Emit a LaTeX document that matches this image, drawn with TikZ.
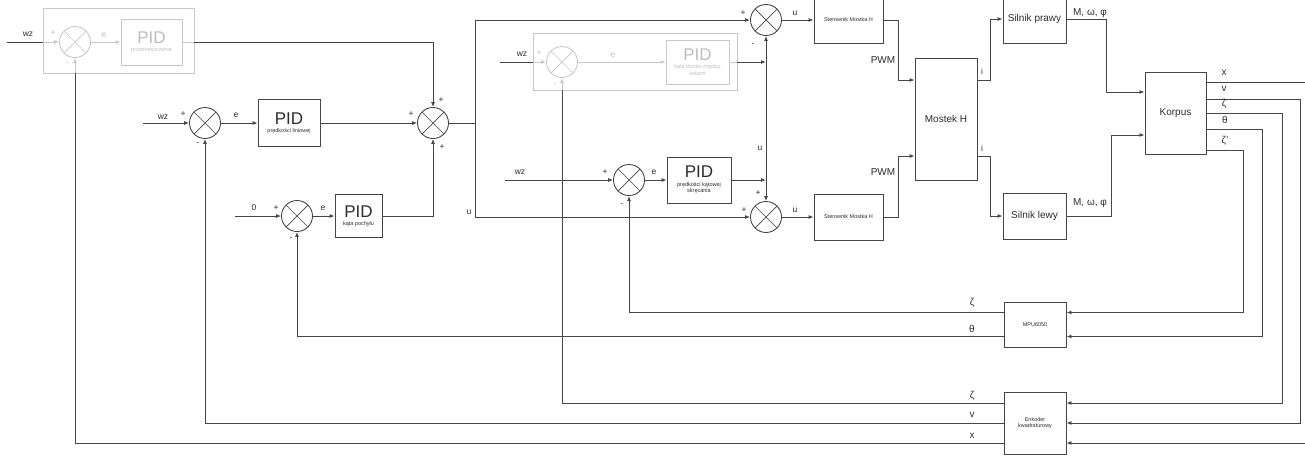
\documentclass[tikz,border=0pt]{standalone}
\usepackage{fontspec}
\setmainfont{Liberation Sans}
\usetikzlibrary{arrows.meta,calc}
\definecolor{ctrlInk}{RGB}{45,45,45}
\definecolor{ctrlLine}{RGB}{70,70,70}
\definecolor{ctrlFade}{RGB}{200,200,200}
\definecolor{ctrlFadeText}{RGB}{190,190,190}
\newcommand{\pidfont}{\fontsize{17}{18}\selectfont}
\newcommand{\tinyfont}{\fontsize{5.5}{6.5}\selectfont}

\begin{document}
\begin{tikzpicture}[
  x=1pt,y=-1pt,
  font=\fontsize{10}{12}\selectfont,
  >={Latex[length=5pt,width=4pt]},
  block/.style={draw=ctrlLine,line width=0.9pt,fill=white,align=center,text=ctrlInk,inner sep=1pt},
  pidbox/.style={block,font=\tinyfont},
  faded/.style={pidbox,draw=ctrlFade,text=ctrlFadeText},
  frame/.style={draw=ctrlFade,line width=0.9pt,inner sep=0pt},
  sum/.style={circle,draw=#1,line width=0.9pt,fill=white,minimum size=31pt,inner sep=0pt,
    path picture={\draw[#1,line width=0.7pt]
      (path picture bounding box.north west) -- (path picture bounding box.south east)
      (path picture bounding box.south west) -- (path picture bounding box.north east);}},
  sum/.default=ctrlLine,
  arrow/.style={->,line width=0.9pt,draw=ctrlLine},
  farrow/.style={->,line width=0.9pt,draw=ctrlFade},
  bus/.style={line width=0.9pt,draw=ctrlLine},
  fbus/.style={line width=0.9pt,draw=ctrlFade},
  lbl/.style={font=\fontsize{8.5}{9}\selectfont,text=ctrlInk,inner sep=0pt},
  flbl/.style={lbl,text=ctrlFadeText},
  glbl/.style={font=\fontsize{10}{11}\selectfont,text=ctrlInk,inner sep=0pt}
]
\useasboundingbox (0,0) rectangle (1305,456);

\node[frame,minimum width=151pt,minimum height=65pt] (boxA) at (118.5,40.5) {};
\node[sum=ctrlFade] (sumA) at (75,42) {};
\node[faded,minimum width=61pt,minimum height=46pt] (pidA) at (151.5,42) {{\pidfont PID}\\[2pt]przemieszczenie};

\node[sum] (sumB) at (205,123) {};
\node[pidbox,minimum width=62pt,minimum height=47pt] (pidB) at (289,123) {{\pidfont PID}\\[2pt]prędkości liniowej};
\node[sum] (sumC) at (433,123) {};

\node[sum] (sumD) at (297,216) {};
\node[pidbox,minimum width=47pt,minimum height=43pt] (pidD) at (358.5,216) {{\pidfont PID}\\[2pt]kąta pochyłu};

\node[frame,minimum width=204pt,minimum height=57pt] (boxE) at (635,61.5) {};
\node[sum=ctrlFade] (sumE) at (562,62) {};
\node[faded,minimum width=63pt,minimum height=44pt] (pidE) at (697.5,62) {{\pidfont PID}\\[2pt]kąta obrotu między\\kołami};

\node[sum] (sumF) at (629,180) {};
\node[pidbox,minimum width=64pt,minimum height=46pt] (pidF) at (699,180) {{\pidfont PID}\\[2pt]prędkości kątowej\\skręcania};

\node[sum] (sumG) at (766,20) {};
\node[sum] (sumH) at (766,217) {};
\node[block,font=\tinyfont,minimum width=69pt,minimum height=46pt] (sterT) at (848.5,20) {Sterownik Mostka H};
\node[block,font=\tinyfont,minimum width=69pt,minimum height=46pt] (sterB) at (848.5,217) {Sterownik Mostka H};
\node[block,minimum width=62pt,minimum height=122pt] (mostek) at (946,119) {Mostek H};
\node[block,minimum width=63pt,minimum height=48pt] (silP) at (1034.5,19) {Silnik prawy};
\node[block,minimum width=63pt,minimum height=46pt] (silL) at (1034.5,216) {Silnik lewy};
\node[block,minimum width=61pt,minimum height=82pt] (korpus) at (1175.5,113) {Korpus};
\node[block,font=\tinyfont,minimum width=62pt,minimum height=45pt] (mpu) at (1035,324.5) {MPU6050};
\node[block,font=\tinyfont,minimum width=62pt,minimum height=62pt] (enc) at (1035,423) {Enkoder\\kwadraturowy};

\coordinate (inA) at (7,42);
\draw[bus] (inA) -- (boxA.west |- sumA);
\draw[farrow] (boxA.west |- sumA) -- (sumA.west);
\draw[farrow] (sumA.east) -- (pidA.west);
\draw[fbus] (pidA.east) -- (boxA.east |- pidA);
\draw[arrow] (boxA.east |- pidA) -| (sumC.north);

\coordinate (inB) at (143,123);
\draw[arrow] (inB) -- (sumB.west);
\draw[arrow] (sumB.east) -- (pidB.west);
\draw[arrow] (pidB.east) -- (sumC.west);

\coordinate (inD) at (235,216);
\draw[arrow] (inD) -- (sumD.west);
\draw[arrow] (sumD.east) -- (pidD.west);
\draw[arrow] (pidD.east) -| (sumC.south);

\coordinate (split) at (475,123);
\draw[bus] (sumC.east) -- (split);
\draw[arrow] (split) |- (sumG.west);
\draw[arrow] (split) |- (sumH.west);

\coordinate (inE) at (500,62);
\draw[bus] (inE) -- (boxE.west |- sumE);
\draw[farrow] (boxE.west |- sumE) -- (sumE.west);
\draw[farrow] (sumE.east) -- (pidE.west);
\draw[fbus] (pidE.east) -- (boxE.east |- pidE);
\draw[arrow] (boxE.east |- pidE) -- (sumG.south |- pidE);

\coordinate (inF) at (505,180);
\draw[arrow] (inF) -- (sumF.west);
\draw[arrow] (sumF.east) -- (pidF.west);
\draw[arrow] (pidF.east) -- (sumG.south |- pidF);

\coordinate (uturn) at (766,120);
\draw[arrow] (uturn) -- (sumG.south);
\draw[arrow] (uturn) -- (sumH.north);

\draw[arrow] (sumG.east) -- (sterT.west);
\draw[arrow] (sumH.east) -- (sterB.west);
\draw[arrow] (sterT.east) -- ++(15,0) |- ([yshift=39pt]mostek.west);
\draw[arrow] (sterB.east) -- ++(15,0) |- ([yshift=-37pt]mostek.west);
\draw[arrow] ([yshift=39pt]mostek.east) -- ++(13,0) |- (silP.west);
\draw[arrow] ([yshift=-37pt]mostek.east) -- ++(13,0) |- (silL.west);
\draw[arrow] (silP.east) -- ++(40,0) |- ([yshift=21pt]korpus.west);
\draw[arrow] (silL.east) -- ++(45,0) |- ([yshift=-22pt]korpus.west);

\draw[arrow] ([yshift=-37pt]korpus.east) -- ++(37,0) |- ([yshift=12pt]mpu.east);
\draw[arrow] ([yshift=-16pt]korpus.east) -- ++(56,0) |- ([yshift=-12pt]mpu.east);
\draw[arrow] (korpus.east) -- ++(76,0) |- ([yshift=20pt]enc.east);
\draw[arrow] ([yshift=14pt]korpus.east) -- ++(94,0) |- (enc.east);
\draw[arrow] ([yshift=31pt]korpus.east) -- ++(104,0) |- ([yshift=-20pt]enc.east);

\draw[arrow] ([yshift=12pt]mpu.west) -| (sumF.south);
\draw[arrow] ([yshift=-12pt]mpu.west) -| (sumD.south);
\draw[bus] ([yshift=20pt]enc.west) -| (sumE.south |- boxE.south);
\draw[farrow] (sumE.south |- boxE.south) -- (sumE.south);
\draw[arrow] (enc.west) -| (sumB.south);
\draw[bus] ([yshift=-20pt]enc.west) -| (sumA.south |- boxA.south);
\draw[farrow] (sumA.south |- boxA.south) -- (sumA.south);

\node[lbl] (wzA) at (28,34) {wz};
\node[flbl] (pA) at (53,33) {+};
\node[flbl] (mA) at (68,64) {-};
\node[flbl] (eA) at (104,35) {e};
\node[lbl] (wzB) at (163,117) {wz};
\node[lbl] (pB) at (183,114) {+};
\node[lbl] (mB) at (198,144) {-};
\node[lbl] (eB) at (236,115) {e};
\node[lbl] (pC1) at (441,100) {+};
\node[lbl] (pC2) at (411,114) {+};
\node[lbl] (pC3) at (442,147) {+};
\node[lbl] (zeroD) at (254,208) {0};
\node[lbl] (pD) at (276,208) {+};
\node[lbl] (mD) at (291,239) {-};
\node[lbl] (eD) at (323,208) {e};
\node[lbl] (uSplit) at (469,212) {u};
\node[lbl] (wzE) at (522,54) {wz};
\node[flbl] (pE) at (539,53) {+};
\node[flbl] (mE) at (555,85) {-};
\node[flbl] (eE) at (613,55) {e};
\node[lbl] (pG) at (743,13) {+};
\node[lbl] (mG) at (753,45) {-};
\node[lbl] (wzF) at (520,172) {wz};
\node[lbl] (pF) at (605,172) {+};
\node[lbl] (mF) at (622,205) {-};
\node[lbl] (eF) at (654,172) {e};
\node[lbl] (uMid) at (760,148) {u};
\node[lbl] (pH1) at (758,193) {+};
\node[lbl] (pH2) at (744,210) {+};
\node[lbl] (uT) at (795,13) {u};
\node[lbl] (uB) at (795,210) {u};
\node[glbl] (pwmT) at (883,60) {PWM};
\node[glbl] (pwmB) at (883,172) {PWM};
\node[lbl] (iT) at (982,71) {i};
\node[lbl] (iB) at (982,148) {i};
\node[glbl] (mwpP) at (1090,13) {M, ω, φ};
\node[glbl] (mwpL) at (1090,203) {M, ω, φ};
\node[glbl] (oX) at (1224,73) {x};
\node[glbl] (oV) at (1224,89) {v};
\node[glbl] (oZ) at (1224,104) {ζ};
\node[glbl] (oT) at (1225,120) {θ};
\node[glbl] (oZd) at (1225,141) {ζ'};
\node[glbl] (mpuZ) at (972,303) {ζ};
\node[glbl] (mpuT) at (972,329) {θ};
\node[glbl] (encZ) at (972,396) {ζ};
\node[glbl] (encV) at (972,415) {v};
\node[glbl] (encX) at (972,436) {x};
\end{tikzpicture}
\end{document}
